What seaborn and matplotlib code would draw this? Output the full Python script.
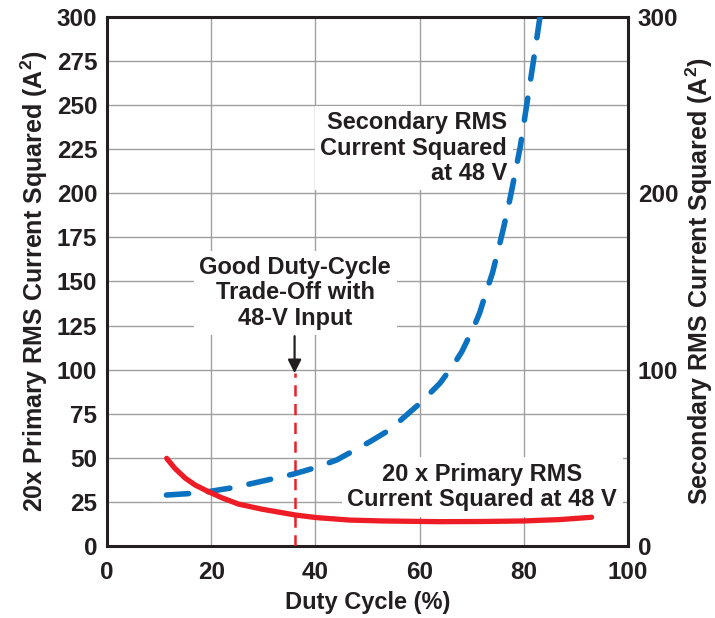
import matplotlib
matplotlib.use("Agg")
import matplotlib.pyplot as plt
import seaborn as sns
import pandas as pd

# Data
duty_sec = [11.4, 16.6, 19.4, 24.4, 29.4, 35.8, 40.2, 44.1, 50.5, 54.3, 57.5,
            60.1, 63.9, 66.5, 68.1, 70.3, 71.5, 73.0, 74.0, 75.1, 76.0, 77.0,
            77.7, 79.3, 80.5, 81.8, 83.1]
sec_sq = [28.9, 29.9, 30.8, 33.2, 36.5, 40.8, 44.6, 48.8, 59.2, 66.0, 74.3,
          81.0, 92.3, 102.7, 110.2, 123.5, 132.0, 146.0, 155.0, 168.0, 179.0,
          192.0, 202.0, 226.0, 249.0, 274.0, 300.0]

duty_pri = [11.45, 13.0, 15.0, 16.9, 19.4, 22.0, 25.2, 29.7, 36.1, 40.2, 46.6,
            53.0, 63.9, 72.0, 79.9, 87.0, 93.0]
pri_sq20 = [49.7, 44.1, 38.5, 34.6, 30.9, 27.4, 23.8, 20.9, 17.6, 16.1, 14.7,
            14.2, 13.8, 13.9, 14.2, 15.0, 16.3]

x_ticks = [0, 20, 40, 60, 80, 100]
left_ticks = [0, 25, 50, 75, 100, 125, 150, 175, 200, 225, 250, 275, 300]
right_ticks = [0, 100, 200, 300]
trade_off_duty = 36
trade_off_top = 98

sns.set_style("white")
plt.rcParams['font.family'] = ['Liberation Sans', 'DejaVu Sans']
plt.rcParams['font.weight'] = 'bold'
plt.rcParams['mathtext.fontset'] = 'custom'
plt.rcParams['mathtext.rm'] = 'Liberation Sans:bold'
plt.rcParams['mathtext.bf'] = 'Liberation Sans:bold'
plt.rcParams['mathtext.default'] = 'bf'

TXT = '#231f20'
BLUE = '#0a72c0'
RED = '#ee1c25'

fig = plt.figure(figsize=(7.15, 6.18), dpi=100)
ax = fig.add_axes([0.1497, 0.1165, 0.8783 - 0.1497, 0.9725 - 0.1165])

df_sec = pd.DataFrame({'duty': duty_sec, 'val': sec_sq})
df_pri = pd.DataFrame({'duty': duty_pri, 'val': pri_sq20})

sns.lineplot(data=df_sec, x='duty', y='val', ax=ax, color=BLUE, lw=4.0,
             zorder=6)
ln = ax.lines[-1]
ln.set_dashes((4.0, 3.5))
ln.set_dash_capstyle('round')
ln.set_solid_joinstyle('round')
sns.lineplot(data=df_pri, x='duty', y='val', ax=ax, color=RED, lw=3.8,
             zorder=6, solid_capstyle='round', solid_joinstyle='round')

ax.plot([trade_off_duty, trade_off_duty], [0, trade_off_top], color=RED,
        lw=1.8, dashes=(4.5, 3), zorder=5)
ax.annotate('', xy=(trade_off_duty, trade_off_top), xytext=(trade_off_duty, 119),
            arrowprops=dict(arrowstyle='-|>', color=TXT, lw=1.6,
                            mutation_scale=20, shrinkA=0, shrinkB=0), zorder=7)

ax.set_xlim(0, 100)
ax.set_ylim(0, 300)
ax.set_xticks(x_ticks)
ax.set_yticks(left_ticks)
ax.grid(True, color='#a0a0a0', lw=1.0)
ax.set_axisbelow(True)
ax.tick_params(axis='y', length=0, labelsize=17.5, colors=TXT, pad=7)
ax.tick_params(axis='x', length=0, labelsize=17.5, colors=TXT, pad=11)
for lab in ax.get_xticklabels() + ax.get_yticklabels():
    lab.set_fontweight('bold')
ax.set_xlabel('Duty Cycle (%)', fontsize=17, fontweight='bold', color=TXT, labelpad=5)
ax.set_ylabel('20x Primary RMS Current Squared (A$^{2}$)', fontsize=18,
              fontweight='bold', color=TXT, labelpad=5)
for s in ax.spines.values():
    s.set_linewidth(2.2)
    s.set_color(TXT)

ax2 = ax.twinx()
ax2.set_ylim(0, 300)
ax2.set_yticks(right_ticks)
ax2.tick_params(axis='y', length=0, labelsize=17.5, colors=TXT, pad=7)
for lab in ax2.get_yticklabels():
    lab.set_fontweight('bold')
ax2.set_ylabel('Secondary RMS Current Squared (A$^{2}$)', fontsize=18,
               fontweight='bold', color=TXT, labelpad=4)
for s in ax2.spines.values():
    s.set_visible(False)

box = dict(facecolor='white', edgecolor='none', pad=4)
ax.text(36.1, 143.5, 'Good Duty-Cycle\nTrade-Off with\n48-V Input', ha='center',
        va='center', fontsize=17, fontweight='bold', color=TXT,
        linespacing=1.12, bbox=box, zorder=4)
ax.text(76.8, 225.7, 'Secondary RMS\nCurrent Squared\nat 48 V', ha='right',
        va='center', multialignment='right', fontsize=17, fontweight='bold',
        color=TXT, linespacing=1.12, bbox=box, zorder=4)
ax.text(72, 33.5, '20 x Primary RMS\nCurrent Squared at 48 V', ha='center',
        va='center', fontsize=17, fontweight='bold', color=TXT,
        linespacing=1.12, bbox=box, zorder=4)

fig.savefig('out.png', dpi=100)
